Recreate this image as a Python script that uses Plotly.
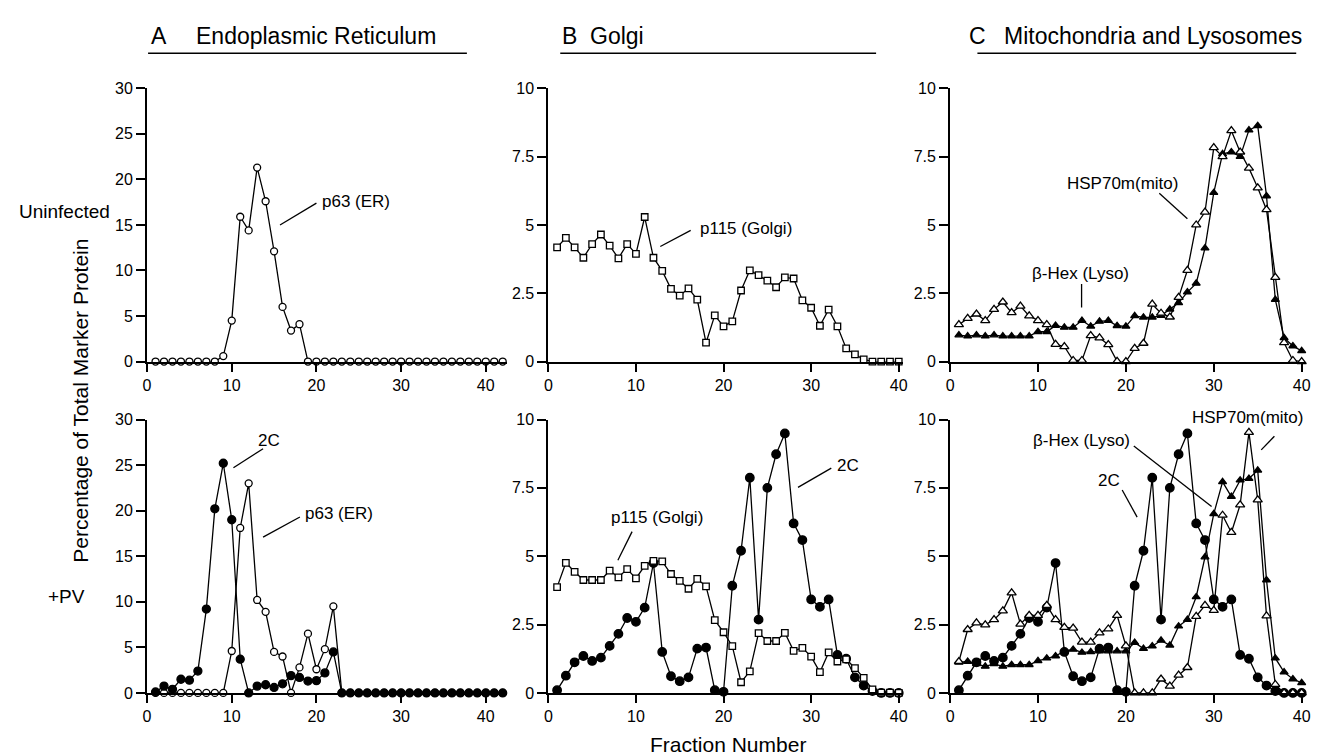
import plotly.graph_objects as go

W, H = 1327, 756
FONT = "Liberation Sans, Arial, Helvetica, sans-serif"

# ---------------- data ----------------
fractions_A = list(range(1, 43))
fractions_BC = list(range(1, 41))

# Panel A (ER), 42 fractions
p63_uninf = [0, 0, 0, 0, 0, 0, 0, 0, 0.6, 4.5, 15.9, 14.4, 21.3, 17.6, 12.1, 6.0, 3.4, 4.1,
             0, 0, 0, 0, 0, 0, 0, 0, 0, 0, 0, 0, 0, 0, 0, 0, 0, 0, 0, 0, 0, 0, 0, 0]
p63_pv = [0, 0, 0, 0, 0, 0, 0, 0, 0, 4.6, 18.1, 23.0, 10.2, 8.9, 4.5, 4.0, 0, 2.8, 6.5, 2.6, 4.8, 9.5,
          0, 0, 0, 0, 0, 0, 0, 0, 0, 0, 0, 0, 0, 0, 0, 0, 0, 0, 0, 0]
c2_A_pv = [0.1, 0.75, 0.4, 1.5, 1.4, 2.4, 9.2, 20.2, 25.2, 19.0, 3.7, 0, 0.75, 0.9, 0.6, 1.0, 1.9, 1.7,
           1.3, 1.35, 2.2, 4.5, 0, 0, 0, 0, 0, 0, 0, 0, 0, 0, 0, 0, 0, 0, 0, 0, 0, 0, 0, 0]

# Panel B (Golgi), 40 fractions
p115_uninf = [4.18, 4.53, 4.18, 3.8, 4.3, 4.65, 4.24, 3.78, 4.3, 3.94, 5.29, 3.8, 3.32, 2.66, 2.41,
              2.68, 2.27, 0.69, 1.69, 1.29, 1.47, 2.6, 3.34, 3.16, 2.96, 2.72, 3.08, 3.04, 2.24, 1.97,
              1.31, 1.9, 1.29, 0.48, 0.26, 0.08, 0, 0, 0, 0]
p115_pv = [3.87, 4.76, 4.43, 4.13, 4.13, 4.13, 4.47, 4.23, 4.53, 4.19, 4.65, 4.83, 4.81, 4.35, 4.1,
           3.81, 4.17, 3.9, 2.66, 2.22, 1.71, 0.39, 0.79, 2.19, 1.9, 1.9, 2.2, 1.54, 1.65, 1.33,
           0.76, 1.48, 1.15, 1.23, 0.91, 0.55, 0.13, 0.01, 0.01, 0]
c2_pv = [0.1, 0.63, 1.12, 1.35, 1.17, 1.29, 1.72, 2.16, 2.74, 2.6, 3.12, 4.75, 1.5, 0.61, 0.43,
         0.57, 1.62, 1.66, 0.1, 0.04, 3.92, 5.2, 7.87, 2.68, 7.5, 8.73, 9.49, 6.2, 5.59, 3.42,
         3.15, 3.42, 1.39, 1.25, 0.57, 0.27, 0.07, 0, 0, 0]

# Panel C (Mitochondria / Lysosomes), 40 fractions
hsp70_uninf = [1.35, 1.58, 1.74, 1.5, 1.91, 2.18, 1.79, 2.03, 1.67, 1.5, 1.35, 0.63, 0.55, 0.04, 0.04,
               0.95, 0.87, 0.62, 0.01, 0, 0.48, 0.67, 2.1, 1.77, 1.63, 2.35, 3.34, 5.0, 5.47, 7.83,
               7.5, 8.45, 7.67, 7.08, 6.36, 5.56, 3.08, 0.69, 0.04, 0]
bhex_uninf = [0.97, 0.93, 0.97, 0.93, 0.97, 0.93, 0.93, 0.93, 0.93, 1.09, 1.09, 1.32, 1.25, 1.25, 1.5,
              1.29, 1.47, 1.5, 1.31, 1.29, 1.67, 1.62, 1.62, 1.68, 1.91, 2.15, 2.54, 2.86, 4.15, 6.18,
              7.6, 7.67, 7.5, 8.47, 8.63, 6.06, 2.27, 0.87, 0.57, 0.39]
hsp70_pv = [1.15, 2.32, 2.56, 2.49, 2.68, 3.0, 3.66, 2.52, 2.84, 2.84, 3.2, 2.68, 2.4, 2.37, 1.86,
            1.86, 2.2, 2.34, 2.84, 1.72, 0, 0, 0, 0.51, 0.25, 0.65, 0.93, 2.8, 3.2, 3.02,
            6.5, 5.87, 6.88, 9.53, 7.06, 2.82, 0.31, 0, 0, 0]
bhex_pv = [1.12, 1.15, 1.06, 0.97, 1.06, 0.97, 1.03, 1.03, 1.03, 1.17, 1.27, 1.35, 1.53, 1.59, 1.48,
           1.5, 1.53, 1.53, 1.53, 1.53, 1.84, 1.62, 1.71, 1.92, 1.74, 2.44, 2.68, 3.51, 4.97, 6.55,
           7.72, 7.18, 7.78, 7.84, 8.14, 4.13, 1.27, 0.76, 0.51, 0.37]

x_tickvals = [0, 10, 20, 30, 40]
yA_tickvals = [0, 5, 10, 15, 20, 25, 30]
yBC_tickvals = [0, 2.5, 5, 7.5, 10]
yBC_ticktext = ["0", "2.5", "5", "7.5", "10"]

panel_titles = [("A", "Endoplasmic Reticulum"), ("B", "Golgi"), ("C", "Mitochondria and Lysosomes")]
row_labels = ["Uninfected", "+PV"]

# ---------------- layout geometry (pixels) ----------------
def px(x):
    return x / W

def py(y):
    return 1 - y / H

col_x = [(136, 498.3, 42.5), (540, 897.2, 40.5), (944.5, 1302.9, 40.5)]
row_y = [(74, 353.5), (412.8, 692.5)]

fig = go.Figure()

def add_series(idx, xs, ys, symbol, filled, size):
    fig.add_trace(go.Scatter(
        x=xs, y=ys, mode="lines+markers",
        xaxis="x" if idx == 1 else f"x{idx}",
        yaxis="y" if idx == 1 else f"y{idx}",
        line=dict(color="black", width=1.3),
        marker=dict(symbol=symbol, size=size, color="black" if filled else "white",
                    line=dict(color="black", width=1.3)),
        cliponaxis=False, showlegend=False, hoverinfo="x+y"))

# top row
add_series(1, fractions_A, p63_uninf, "circle", False, 7)
add_series(2, fractions_BC, p115_uninf, "square", False, 6.5)
add_series(3, fractions_BC, bhex_uninf, "triangle-up", True, 7)
add_series(3, fractions_BC, hsp70_uninf, "triangle-up", False, 8)
# bottom row
add_series(4, fractions_A, p63_pv, "circle", False, 7)
add_series(4, fractions_A, c2_A_pv, "circle", True, 8)
add_series(5, fractions_BC, c2_pv, "circle", True, 8.5)
add_series(5, fractions_BC, p115_pv, "square", False, 6.5)
add_series(6, fractions_BC, c2_pv, "circle", True, 8.5)
add_series(6, fractions_BC, bhex_pv, "triangle-up", True, 7)
add_series(6, fractions_BC, hsp70_pv, "triangle-up", False, 8)

layout = dict(
    width=W, height=H, paper_bgcolor="white", plot_bgcolor="white",
    margin=dict(l=0, r=0, t=0, b=0, pad=0),
    font=dict(family=FONT, color="black", size=16),
    showlegend=False,
)

tickfont = dict(family=FONT, size=16, color="black")
for r in range(2):
    for c in range(3):
        idx = r * 3 + c + 1
        xs = "" if idx == 1 else str(idx)
        x0, x1, xmax = col_x[c]
        y0, y1 = row_y[r]
        layout[f"xaxis{xs}"] = dict(
            domain=[px(x0), px(x1)], anchor=f"y{xs}", range=[0, xmax],
            tickvals=x_tickvals, ticks="outside", ticklen=8, tickwidth=1.5, tickcolor="black",
            showline=True, linecolor="black", linewidth=2, showgrid=False, zeroline=False,
            tickfont=tickfont, fixedrange=True)
        if c == 0:
            ydict = dict(range=[0, 30], tickvals=yA_tickvals)
        else:
            ydict = dict(range=[0, 10], tickvals=yBC_tickvals, ticktext=yBC_ticktext)
        layout[f"yaxis{xs}"] = dict(
            domain=[py(y1), py(y0)], anchor=f"x{xs}",
            ticks="outside", ticklen=9, tickwidth=1.5, tickcolor="black",
            showline=True, linecolor="black", linewidth=2, showgrid=False, zeroline=False,
            tickfont=tickfont, fixedrange=True, **ydict)

fig.update_layout(**layout)

annotations = []
shapes = []

# panel headers with underlines
header_pos = [(138, 183, 137, 458), (552, 580, 552, 870), (962, 997, 972, 1293)]
for (letter, title), (lx, tx, ux0, ux1) in zip(panel_titles, header_pos):
    annotations.append(dict(x=px(lx), y=py(20), xref="paper", yref="paper", text=letter,
                            showarrow=False, xanchor="left", yanchor="middle",
                            font=dict(family=FONT, size=23)))
    annotations.append(dict(x=px(tx), y=py(20), xref="paper", yref="paper", text=title,
                            showarrow=False, xanchor="left", yanchor="middle",
                            font=dict(family=FONT, size=23)))
    shapes.append(dict(type="line", xref="paper", yref="paper", x0=px(ux0), x1=px(ux1),
                       y0=py(38), y1=py(38), line=dict(color="black", width=1.5)))

# row labels
annotations.append(dict(x=px(101), y=py(200), xref="paper", yref="paper", text=row_labels[0],
                        showarrow=False, xanchor="right", yanchor="middle",
                        font=dict(family=FONT, size=19)))
annotations.append(dict(x=px(76), y=py(594), xref="paper", yref="paper", text=row_labels[1],
                        showarrow=False, xanchor="right", yanchor="middle",
                        font=dict(family=FONT, size=19)))
# axis titles
annotations.append(dict(x=px(69), y=py(394), xref="paper", yref="paper",
                        text="Percentage of Total Marker Protein", textangle=-90,
                        showarrow=False, xanchor="center", yanchor="middle",
                        font=dict(family=FONT, size=21)))
annotations.append(dict(x=px(721), y=py(745), xref="paper", yref="paper",
                        text="Fraction Number", showarrow=False, xanchor="center", yanchor="middle",
                        font=dict(family=FONT, size=21)))

# in-plot labels with leader lines (data coordinates)
def label(idx, x, y, text, line, paper_pos=None):
    xs = "" if idx == 1 else str(idx)
    if paper_pos is None:
        annotations.append(dict(x=x, y=y, xref=f"x{xs}", yref=f"y{xs}", text=text, showarrow=False,
                                xanchor="left", yanchor="middle", font=dict(family=FONT, size=17)))
    else:
        annotations.append(dict(x=px(paper_pos[0]), y=py(paper_pos[1]), xref="paper", yref="paper",
                                text=text, showarrow=False, xanchor="left", yanchor="middle",
                                font=dict(family=FONT, size=17)))
    (lx0, ly0), (lx1, ly1) = line
    shapes.append(dict(type="line", xref=f"x{xs}", yref=f"y{xs}", x0=lx0, y0=ly0, x1=lx1, y1=ly1,
                       line=dict(color="black", width=1.3)))

label(1, 20.4, 17.6, "p63 (ER)", ((20.0, 17.4), (15.7, 15.0)))
label(4, 12.9, 27.7, "2C", ((13.7, 26.8), (10.2, 24.7)))
label(4, 18.4, 19.7, "p63 (ER)", ((18.05, 19.3), (13.7, 17.1)))
label(2, 17.1, 4.88, "p115 (Golgi)", ((16.25, 4.80), (12.78, 4.21)))
label(5, 6.9, 6.42, "p115 (Golgi)", ((9.56, 5.90), (7.94, 4.85)))
label(5, 32.7, 8.32, "2C", ((32.3, 8.22), (28.5, 7.52)))
label(3, 13.1, 6.50, "HSP70m(mito)", ((23.8, 6.16), (27.0, 5.23)))
label(3, 9.05, 3.23, "β-Hex (Lyso)", ((14.96, 2.84), (14.96, 1.98)))
label(6, 9.2, 9.25, "β-Hex (Lyso)", ((20.9, 9.03), (29.75, 6.82)))
label(6, 16.6, 7.78, "2C", ((19.58, 7.42), (21.28, 6.43)))
label(6, 27.3, 10.07, "HSP70m(mito)", ((36.9, 9.39), (35.4, 8.89)), paper_pos=(1186, 411))

fig.update_layout(annotations=annotations, shapes=shapes)
fig.write_html("out.html")
